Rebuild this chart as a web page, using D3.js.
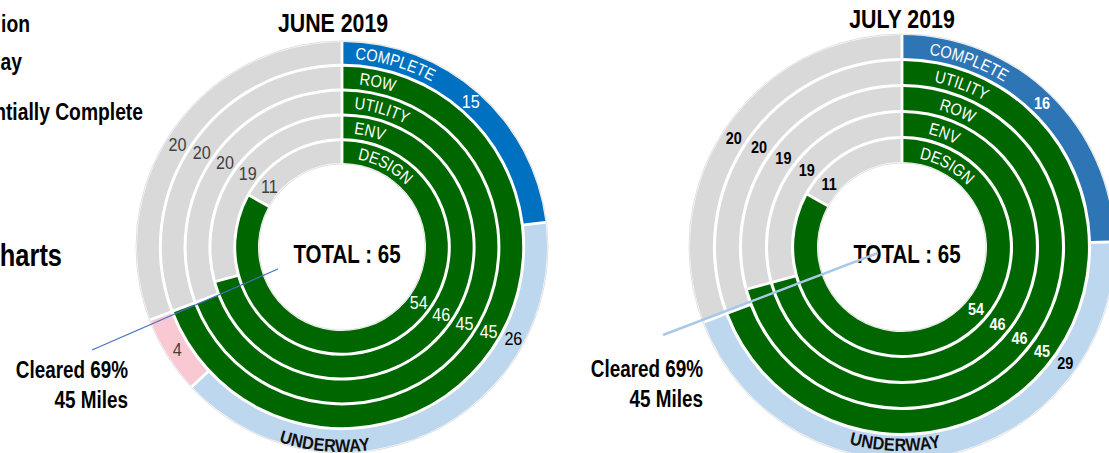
<!DOCTYPE html>
<html>
<head>
<meta charset="utf-8">
<script src="https://cdn.jsdelivr.net/npm/d3@7"></script>
<style>
body { margin: 0; background: #fff; }
svg { display: block; font-family: "Liberation Sans Narrow", "Arial Narrow", "Liberation Sans", sans-serif; }
</style>
</head>
<body>
<div id="chart"></div>
<script>
// total miles in every ring
var totalMiles = 65;

// outer ring: project status
var statusKeys = ["COMPLETE", "UNDERWAY", "SUBSTANTIALLY COMPLETE", "REMAINING"];
var juneStatus = [15, 26, 4, 20];
var julyStatus = [16, 29, 0, 20];

// inner rings (outside to inside): cleared miles and remaining miles
var juneTasks = ["ROW", "UTILITY", "ENV", "DESIGN"];
var juneDone = [45, 45, 46, 54];
var juneLeft = [20, 20, 19, 11];

var julyTasks = ["UTILITY", "ROW", "ENV", "DESIGN"];
var julyDone = [45, 46, 46, 54];
var julyLeft = [20, 19, 19, 11];

var juneTitle = "JUNE 2019";
var julyTitle = "JULY 2019";
var clearedText = ["Cleared 69%", "45 Miles"];
var legendBits = ["ion", "ay", "ntially Complete"];

var width = 1109, height = 453;

var svg = d3.select("#chart")
    .append("svg")
    .attr("width", width)
    .attr("height", height);

// no narrow font installed, so squeeze the glyphs instead
function narrow(sel, k) {
    sel.each(function () {
        var len = this.getComputedTextLength();
        this.setAttribute("textLength", len * k);
        this.setAttribute("lengthAdjust", "spacingAndGlyphs");
    });
}

// cut-off legend on the left edge
svg.append("text").attr("x", 30).attr("y", 32).attr("text-anchor", "end")
    .style("font-size", "23.5px").style("font-weight", "bold").text(legendBits[0]).call(narrow, 0.82);
svg.append("text").attr("x", 22).attr("y", 70).attr("text-anchor", "end")
    .style("font-size", "23.5px").style("font-weight", "bold").text(legendBits[1]).call(narrow, 0.82);
svg.append("text").attr("x", 143).attr("y", 120).attr("text-anchor", "end")
    .style("font-size", "23.5px").style("font-weight", "bold").text(legendBits[2]).call(narrow, 0.82);
svg.append("text").attr("x", 62).attr("y", 266).attr("text-anchor", "end")
    .style("font-size", "31px").style("font-weight", "bold").text("harts").call(narrow, 0.82);

function drawDonut(cfg) {
    var g = svg.append("g")
        .attr("transform", "translate(" + cfg.cx + "," + cfg.cy + ")");

    var rings = ["STATUS"].concat(cfg.tasks);
    var r = d3.scaleBand()
        .domain(rings.slice().reverse())
        .range([cfg.innerR, cfg.outerR])
        .paddingInner(0.12);
    var bw = r.bandwidth();

    var pie = d3.pie().sort(null).value(function (d) { return d.value; });
    var arc = d3.arc().padAngle(0.028).padRadius(100);
    var rad = function (deg) { return deg * Math.PI / 180; };

    // build ring data
    var ringData = rings.map(function (key, i) {
        var rows;
        if (i === 0) {
            rows = cfg.status.map(function (v, j) {
                return { key: statusKeys[j], value: v, color: cfg.statusColors[j] };
            });
        } else {
            rows = [
                { key: "done", value: cfg.done[i - 1], color: "#006600" },
                { key: "left", value: cfg.left[i - 1], color: "#D9D9D9" }
            ];
        }
        return { key: key, index: i, arcs: pie(rows.filter(function (d) { return d.value > 0; })) };
    });

    // faint outline round the doughnut
    g.append("circle").attr("r", cfg.outerR + 1).attr("fill", "none")
        .attr("stroke", "#d8d8d8").attr("stroke-width", 0.8);
    g.append("circle").attr("r", cfg.innerR - 1).attr("fill", "none")
        .attr("stroke", "#d8d8d8").attr("stroke-width", 0.8);

    ringData.forEach(function (ring) {
        var r0 = r(ring.key), r1 = r0 + bw;
        g.selectAll(null)
            .data(ring.arcs)
            .enter()
            .append("path")
            .attr("fill", function (d) { return d.data.color; })
            .attr("d", function (d) {
                return arc.innerRadius(r0).outerRadius(r1)(d);
            });

        // value labels
        var rm = r0 + bw / 2;
        g.selectAll(null)
            .data(ring.arcs)
            .enter()
            .append("text")
            .attr("text-anchor", "middle")
            .attr("dy", "0.35em")
            .style("font-size", cfg.numSize + "px")
            .style("font-weight", cfg.bold ? "bold" : "normal")
            .attr("fill", function (d) {
                var k = d.data.key;
                if (k === "done" || k === "COMPLETE") return "#fff";
                if (k === "UNDERWAY") return "#000";
                return cfg.bold ? "#000" : "#404040";
            })
            .attr("transform", function (d) {
                var k = d.data.key, a;
                if (k === "done" || k === "UNDERWAY") a = rad(cfg.fillAngle + cfg.fillStep * ring.index);
                else if (k === "left" || k === "REMAINING") a = rad(cfg.grayAngle + cfg.grayStep * ring.index);
                else a = (d.startAngle + d.endAngle) / 2;
                var p = d3.pointRadial(a, rm);
                return "translate(" + p[0] + "," + p[1] + ")";
            })
            .text(function (d) { return d.data.value; })
            .call(narrow, 0.85);

        // curved name labels
        var name = ring.index === 0 ? "COMPLETE" : ring.key;
        var id = cfg.id + "-ring" + ring.index;
        var pth = d3.path();
        pth.arc(0, 0, r0 + cfg.nameBase, rad(cfg.nameStart[ring.index]) - Math.PI / 2, rad(120) - Math.PI / 2, false);
        g.append("path").attr("id", id).attr("d", pth.toString()).attr("fill", "none");
        g.append("text")
            .style("font-size", cfg.nameSize + "px")
            .attr("fill", "#fff")
            .append("textPath")
            .attr("href", "#" + id)
            .text(name)
            .call(narrow, 0.86);
    });

    // UNDERWAY along the bottom, upright
    var bot = d3.path();
    bot.arc(0, 0, cfg.underR, rad(cfg.underAt + 30) - Math.PI / 2, rad(cfg.underAt - 30) - Math.PI / 2, true);
    g.append("path").attr("id", cfg.id + "-under").attr("d", bot.toString()).attr("fill", "none");
    g.append("text")
        .style("font-size", "18px")
        .style("font-weight", "bold")
        .attr("fill", "#111")
        .append("textPath")
        .attr("href", "#" + cfg.id + "-under")
        .attr("startOffset", "50%")
        .attr("text-anchor", "middle")
        .text("UNDERWAY")
        .call(narrow, 0.9);

    // centre total
    g.append("text")
        .attr("x", 5).attr("y", 16)
        .attr("text-anchor", "middle")
        .style("font-size", "25px").style("font-weight", "bold")
        .text("TOTAL : " + totalMiles)
        .call(narrow, 0.82);

    // leader line to the cleared note
    g.append("line")
        .attr("x1", cfg.leader[0]).attr("y1", cfg.leader[1])
        .attr("x2", cfg.leader[2]).attr("y2", cfg.leader[3])
        .attr("stroke", cfg.leaderColor)
        .attr("stroke-width", cfg.leaderWidth);

    g.selectAll(null)
        .data(clearedText)
        .enter()
        .append("text")
        .attr("x", cfg.noteX)
        .attr("y", function (d, i) { return cfg.noteY + i * 30; })
        .attr("text-anchor", "end")
        .style("font-size", "23px").style("font-weight", "bold")
        .text(function (d) { return d; })
        .call(narrow, 0.82);

    // title
    svg.append("text")
        .attr("x", cfg.cx + cfg.titleDx).attr("y", cfg.titleY)
        .attr("text-anchor", "middle")
        .style("font-size", "26px").style("font-weight", "bold")
        .text(cfg.title)
        .call(narrow, 0.82);
}

drawDonut({
    id: "june", cx: 342, cy: 247, outerR: 205, innerR: 84,
    title: juneTitle, titleDx: -9, titleY: 32,
    status: juneStatus, statusColors: ["#0070C0", "#BDD7EE", "#F8C9D3", "#D9D9D9"],
    tasks: juneTasks, done: juneDone, left: juneLeft,
    bold: false, numSize: 19, nameSize: 17, nameBase: 5,
    nameStart: [4, 6, 5, 6, 10],
    fillAngle: 118, fillStep: 2, grayAngle: 302, grayStep: 2,
    underAt: 185, underR: 205,
    leader: [-64, 22, -250, 103], leaderColor: "#4472C4", leaderWidth: 1.2,
    noteX: -214, noteY: 131
});

drawDonut({
    id: "july", cx: 902, cy: 247, outerR: 212, innerR: 85,
    title: julyTitle, titleDx: 0, titleY: 28,
    status: julyStatus, statusColors: ["#2E75B6", "#BDD7EE", "#F8C9D3", "#D9D9D9"],
    tasks: julyTasks, done: julyDone, left: julyLeft,
    bold: true, numSize: 17, nameSize: 17, nameBase: 5,
    nameStart: [8, 11, 15, 13, 11],
    fillAngle: 125.5, fillStep: 1.1, grayAngle: 303, grayStep: 2,
    underAt: 182, underR: 204,
    leader: [-24, 6, -239, 88], leaderColor: "#A9C8E8", leaderWidth: 2.5,
    noteX: -199, noteY: 130
});
</script>
</body>
</html>
